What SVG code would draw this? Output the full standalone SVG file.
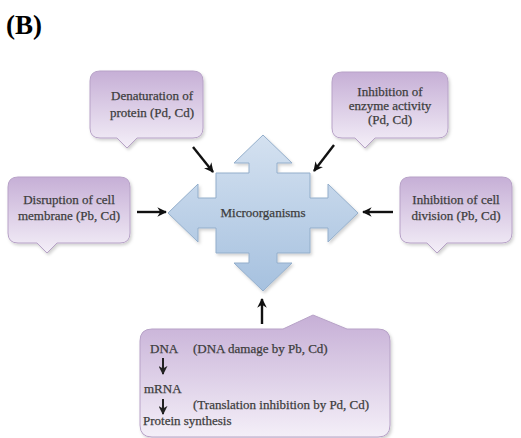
<svg xmlns="http://www.w3.org/2000/svg" width="521" height="438" viewBox="0 0 521 438">
<defs>
<linearGradient id="pg" x1="0" y1="0" x2="0" y2="1">
<stop offset="0" stop-color="#c6afd6"/>
<stop offset="1" stop-color="#f4eff8"/>
</linearGradient>
<linearGradient id="bg" x1="0" y1="0" x2="0" y2="1">
<stop offset="0" stop-color="#d4e1f0"/>
<stop offset="1" stop-color="#a6c1df"/>
</linearGradient>
<filter id="sh" x="-10%" y="-10%" width="125%" height="130%">
<feDropShadow dx="1.5" dy="2" stdDeviation="1.5" flood-color="#000" flood-opacity="0.18"/>
</filter>
<marker id="ah" viewBox="0 0 10 10" refX="9" refY="5" markerWidth="4" markerHeight="4" orient="auto" markerUnits="strokeWidth">
<path d="M0,0 L10,5 L0,10 L3,5 Z" fill="#111"/>
</marker>
<marker id="ahs" viewBox="0 0 10 10" refX="9" refY="5" markerWidth="4.5" markerHeight="4.5" orient="auto" markerUnits="strokeWidth">
<path d="M0,0 L10,5 L0,10 L3,5 Z" fill="#222"/>
</marker>
</defs>
<style>
.box{fill:url(#pg);stroke:#b7a2c7;stroke-width:1;filter:url(#sh)}
.t{font-family:"Liberation Serif","Times New Roman",serif;font-size:13px;fill:#3d3d3d;stroke:#3d3d3d;stroke-width:0.25;text-anchor:middle}
.tl{font-family:"Liberation Serif","Times New Roman",serif;font-size:13px;fill:#3d3d3d;stroke:#3d3d3d;stroke-width:0.25}
.c{stroke:#111;stroke-width:2.4;fill:none;marker-end:url(#ah)}
.s{stroke:#222;stroke-width:2;fill:none;marker-end:url(#ahs)}
</style>
<rect width="521" height="438" fill="#fff"/>
<text x="6" y="34" font-family="Liberation Serif, serif" font-size="27" font-weight="bold" fill="#000">(B)</text>

<g id="microorganisms">
<path d="M263,135 L292,163 L277,163 L277,173 L310,173 L310,198 L328,198 L328,184 L358,213 L328,242 L328,228 L310,228 L310,253 L277,253 L277,263 L292,263 L263,291 L234,263 L249,263 L249,253 L216,253 L216,228 L198,228 L198,242 L168,213 L198,184 L198,198 L216,198 L216,173 L249,173 L249,163 L234,163 Z" fill="url(#bg)" stroke="#93aecb" stroke-width="1" filter="url(#sh)"/>
<text class="t" x="263" y="217" font-size="13.5">Microorganisms</text>
</g>

<g id="denaturation">
<path class="box" d="M100,71 H193 Q203,71 203,81 V128 Q203,138 193,138 H137 L127,148 L117,138 H100 Q90,138 90,128 V81 Q90,71 100,71 Z"/>
<text class="t" x="152" y="100">Denaturation of</text>
<text class="t" x="152" y="117">protein (Pd, Cd)</text>
</g>

<g id="enzyme">
<path class="box" d="M342,72 H438 Q448,72 448,82 V128 Q448,138 438,138 H375 L365,148 L355,138 H342 Q332,138 332,128 V82 Q332,72 342,72 Z"/>
<text class="t" x="390" y="96">Inhibition of</text>
<text class="t" x="390" y="110">enzyme activity</text>
<text class="t" x="390" y="124">(Pd, Cd)</text>
</g>

<g id="membrane">
<path class="box" d="M18,177 H120 Q130,177 130,187 V233 Q130,243 120,243 H57 L47,253 L37,243 H18 Q8,243 8,233 V187 Q8,177 18,177 Z"/>
<text class="t" x="69" y="204">Disruption of cell</text>
<text class="t" x="69" y="220">membrane (Pb, Cd)</text>
</g>

<g id="division">
<path class="box" d="M410,177 H502 Q512,177 512,187 V233 Q512,243 502,243 H447 L437,253 L427,243 H410 Q400,243 400,233 V187 Q400,177 410,177 Z"/>
<text class="t" x="456" y="204">Inhibition of cell</text>
<text class="t" x="456" y="220">division (Pb, Cd)</text>
</g>

<g id="dna">
<path class="box" d="M152,329 H283 L313,315 L347,329 H378 Q390,329 390,341 V425 Q390,437 378,437 H152 Q140,437 140,425 V341 Q140,329 152,329 Z"/>
<text class="tl" x="150" y="353">DNA</text>
<text class="tl" x="193" y="353">(DNA damage by Pb, Cd)</text>
<text class="tl" x="144" y="393">mRNA</text>
<text class="tl" x="193" y="409">(Translation inhibition by Pd, Cd)</text>
<text class="tl" x="143" y="425">Protein synthesis</text>
<line class="s" x1="163" y1="358" x2="163" y2="374"/>
<line class="s" x1="163" y1="399" x2="163" y2="414"/>
</g>

<g id="connectors">
<line class="c" x1="193" y1="147" x2="213" y2="172"/>
<line class="c" x1="334" y1="145" x2="314" y2="171"/>
<line class="c" x1="137" y1="212" x2="166" y2="212"/>
<line class="c" x1="393" y1="212" x2="363" y2="212"/>
<line class="c" x1="262" y1="324" x2="262" y2="299"/>
</g>
</svg>
